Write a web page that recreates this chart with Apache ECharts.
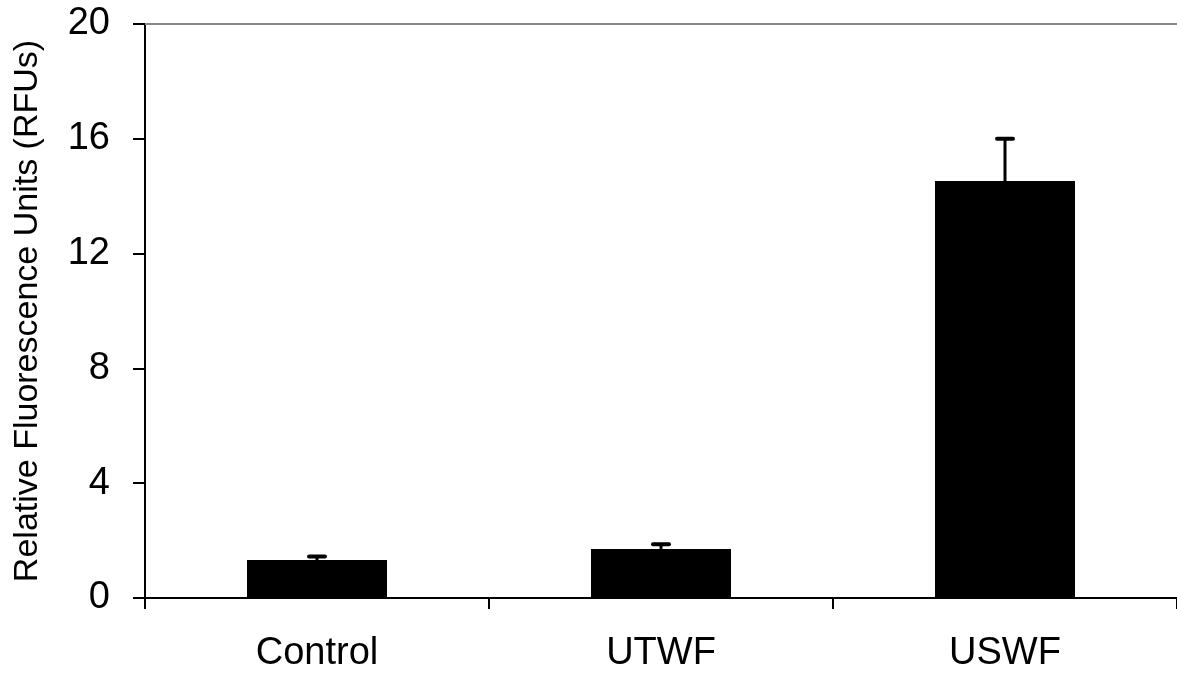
<!DOCTYPE html>
<html>
<head>
<meta charset="utf-8">
<script src="https://cdn.jsdelivr.net/npm/echarts@6/dist/echarts.min.js"></script>
<style>
    html, body { margin: 0; padding: 0; background: #fff; }
    #chart { width: 1177px; height: 673px; }
</style>
</head>
<body>
<div id="chart"></div>
<script>
// 数据
const categories = ['Control', 'UTWF', 'USWF'];
const means = [1.32, 1.71, 14.53];
const errUpper = [1.45, 1.87, 16.0];
const yTicks = [0, 4, 8, 12, 16, 20];

const myChart = echarts.init(document.getElementById('chart'));

const font = 'Liberation Sans, Arial, sans-serif';

let option = {
    animation: false,
    grid: { left: 145, right: 0, top: 24, bottom: 71 },
    xAxis: [{
        type: 'category',
        data: categories,
        axisLine: { lineStyle: { color: '#000', width: 2 } },
        axisTick: { show: true, length: 11, lineStyle: { color: '#000', width: 2 } },
        axisLabel: { color: '#000', fontSize: 38, fontFamily: font, margin: 37 }
    }, {
        // 顶部灰线
        type: 'category',
        position: 'top',
        data: categories,
        axisLine: { lineStyle: { color: '#888', width: 2 } },
        axisTick: { show: false },
        axisLabel: { show: false }
    }],
    yAxis: {
        type: 'value',
        min: yTicks[0],
        max: yTicks[yTicks.length - 1],
        interval: 4,
        name: 'Relative Fluorescence Units (RFUs)',
        nameLocation: 'middle',
        nameGap: 100,
        nameTextStyle: { color: '#000', fontSize: 34, fontFamily: font },
        axisLine: { show: true, lineStyle: { color: '#000', width: 2 } },
        axisTick: { show: true, length: 12, lineStyle: { color: '#000', width: 2 } },
        axisLabel: { color: '#000', fontSize: 38, fontFamily: font, margin: 35 },
        splitLine: { show: false }
    },
    series: [{
        type: 'bar',
        data: means,
        barWidth: '40.7%',
        itemStyle: { color: '#000' }
    }, {
        // 误差线
        type: 'custom',
        data: categories.map((c, i) => [i, means[i], errUpper[i]]),
        renderItem: function(params, api) {
            const base = api.coord([api.value(0), api.value(1)]);
            const top = api.coord([api.value(0), api.value(2)]);
            const hw = 8;
            return {
                type: 'group',
                children: [{
                    type: 'line',
                    shape: { x1: base[0], y1: base[1], x2: top[0], y2: top[1] },
                    style: { stroke: '#000', lineWidth: 3 }
                }, {
                    type: 'line',
                    shape: { x1: top[0] - hw, y1: top[1], x2: top[0] + hw, y2: top[1] },
                    style: { stroke: '#000', lineWidth: 4, lineCap: 'round' }
                }]
            };
        },
        z: 3
    }]
};

myChart.setOption(option);
</script>
</body>
</html>
